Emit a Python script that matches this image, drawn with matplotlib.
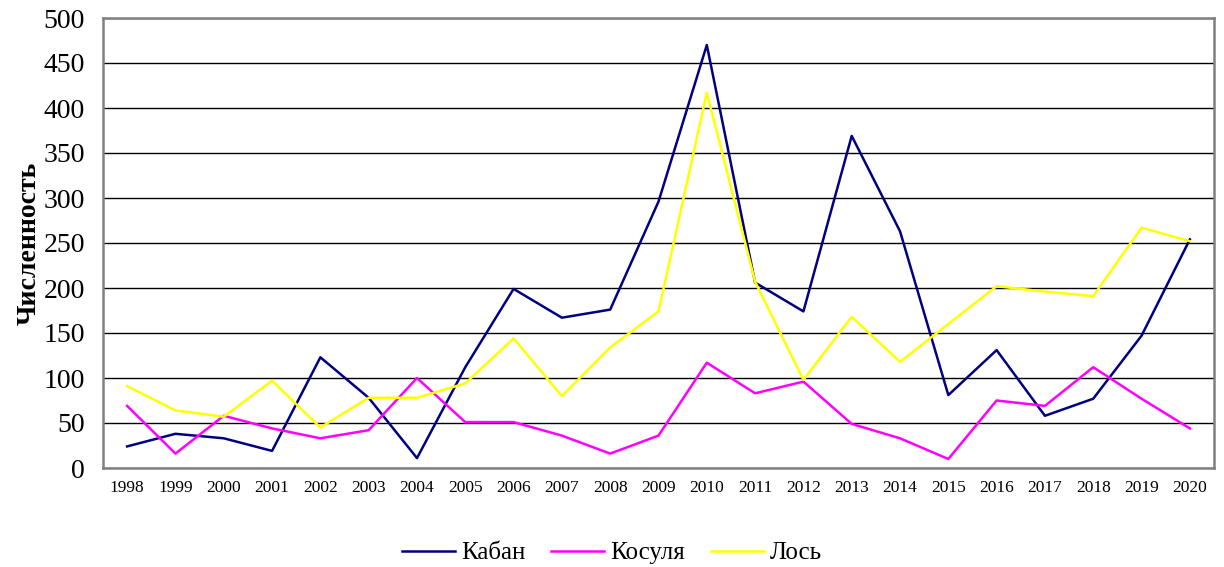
import matplotlib
matplotlib.use("Agg")
import matplotlib.pyplot as plt

years = [str(y) for y in range(1998, 2021)]
kaban = [24, 38, 33, 19, 123, 78, 11, 112, 199, 167, 176, 296, 470, 206, 174, 369, 263, 81, 131, 58, 77, 147, 254]
kosulya = [69, 16, 58, 44, 33, 42, 100, 51, 51, 36, 16, 36, 117, 83, 96, 49, 33, 10, 75, 69, 112, 77, 44]
los = [91, 64, 57, 97, 45, 78, 78, 94, 144, 80, 134, 174, 417, 207, 98, 168, 118, 160, 202, 196, 191, 267, 252]
series_names = ["Кабан", "Косуля", "Лось"]
colors = ["#000080", "#FF00FF", "#FFFF00"]

plt.rcParams['font.family'] = ['Liberation Serif', 'DejaVu Serif']

fig = plt.figure(figsize=(12.24, 5.67), dpi=100)
ax = fig.add_axes([103 / 1224, 1 - 468 / 567, (1214 - 103) / 1224, 450 / 567])

x = list(range(len(years)))
for data, name, c in zip([kaban, kosulya, los], series_names, colors):
    ax.plot(x, data, color=c, lw=1.8, label=name)

ax.set_xlim(-0.5, len(years) - 0.5)
ax.set_ylim(0, 500)
ax.set_yticks(range(0, 501, 50))
ax.set_xticks(x)
ax.set_xticklabels(years, fontsize=12.5)
ax.tick_params(axis='y', labelsize=20, length=0, pad=13)
ax.tick_params(axis='x', length=0, pad=9)
ax.yaxis.grid(True, color='black', lw=1)
ax.set_axisbelow(True)
for s in ax.spines.values():
    s.set_color('#808080')
    s.set_linewidth(1.8)

ax.set_ylabel("Численность", fontsize=20, fontweight='bold')
ax.yaxis.set_label_coords((42 - 103) / 1111, 0.5)

leg = fig.legend(loc='center', bbox_to_anchor=(0.5, 1 - 553 / 567), ncol=3, frameon=False,
                 fontsize=18, handlelength=2.1, columnspacing=1.05, handletextpad=0.25)

fig.savefig("out.png", dpi=100)
